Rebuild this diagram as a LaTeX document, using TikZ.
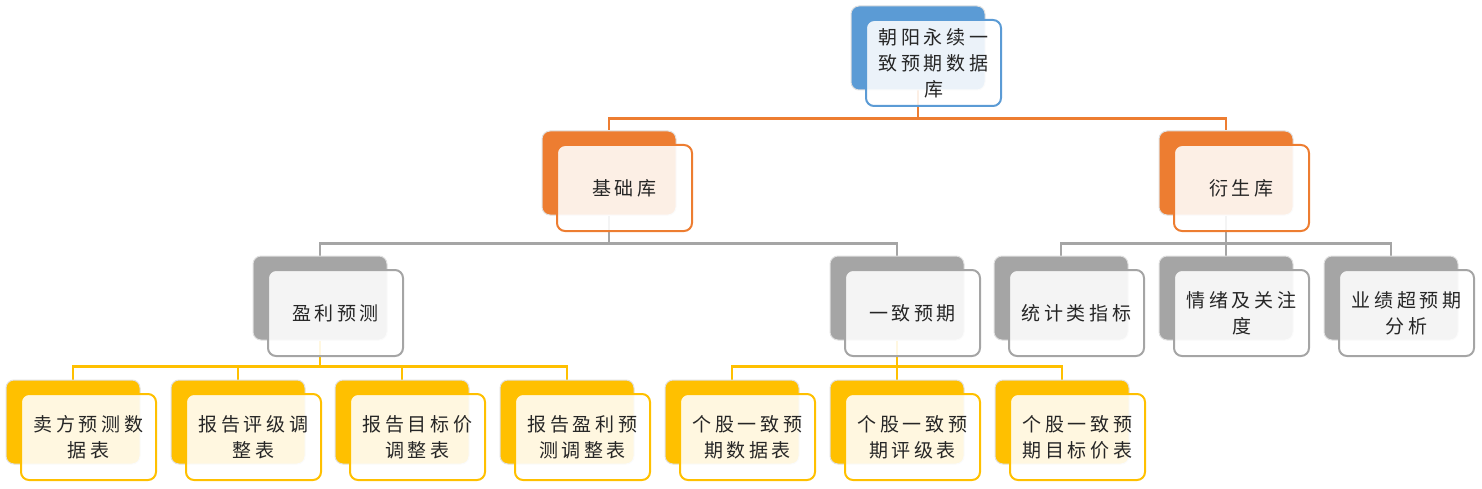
\documentclass[tikz,border=0pt]{standalone}
\usepackage{fontspec}
\newfontfamily\cjk[LetterSpace=19]{Noto Sans CJK SC}
\usetikzlibrary{calc,backgrounds}
\definecolor{rootblue}{HTML}{5B9BD5}
\definecolor{baseorange}{HTML}{ED7D31}
\definecolor{midgray}{HTML}{A5A5A5}
\definecolor{leafyellow}{HTML}{FFC000}
\definecolor{inkgray}{HTML}{262626}
\tikzset{
  backbox/.style={rounded corners=8pt, minimum width=134pt, minimum height=84pt,
    inner sep=0pt, draw=black!12, line width=1pt},
  frontbox/.style={rounded corners=8pt, minimum width=135pt, minimum height=86pt,
    inner sep=0pt, fill=white, fill opacity=0.88, text opacity=1, line width=2pt,
    text=inkgray, align=center, font=\cjk\fontsize{19}{26}\selectfont},
  link/.style={line width=2.3pt}
}
% back box named #2, front box named #2-f
\def\orgbox[#1](#2)(#3,#4)#5{%
  \node[backbox, fill=#1] (#2) at (#3,#4) {};
  \node[frontbox, draw=#1] (#2-f) at (#3+15.5,#4+15) {#5};}

\begin{document}
\begin{tikzpicture}[x=1pt,y=-1pt]
	\useasboundingbox (0,0) rectangle (1482,489);
	
	%%%%% level 0 %%%%%
	\orgbox[rootblue](root)(918,48){朝阳永续一\\致预期数据\\库}
	
	%%%%% level 1 %%%%%
	\orgbox[baseorange](base)(609,173){基础库}
	\orgbox[baseorange](deriv)(1226,173){衍生库}
	
	%%%%% level 2 %%%%%
	\orgbox[midgray](earn)(320,298){盈利预测}
	\orgbox[midgray](cons)(897,298){一致预期}
	\orgbox[midgray](stat)(1061,298){统计类指标}
	\orgbox[midgray](mood)(1226,298){情绪及关注\\度}
	\orgbox[midgray](beat)(1391,298){业绩超预期\\分析}
	
	%%%%% level 3 %%%%%
	\orgbox[leafyellow](sell)(73,422){卖方预测数\\据表}
	\orgbox[leafyellow](rate)(238,422){报告评级调\\整表}
	\orgbox[leafyellow](tgt)(402,422){报告目标价\\调整表}
	\orgbox[leafyellow](fcst)(567,422){报告盈利预\\测调整表}
	\orgbox[leafyellow](cdata)(732,422){个股一致预\\期数据表}
	\orgbox[leafyellow](crate)(897,422){个股一致预\\期评级表}
	\orgbox[leafyellow](ctgt)(1062,422){个股一致预\\期目标价表}
	
	%%%%% connectors %%%%%
	\begin{scope}[on background layer]
		\draw[link, color=baseorange] (root.south) -- ++(0,28) -| (base.north);
		\draw[link, color=baseorange] (root.south) -- ++(0,28) -| (deriv.north);
		
		\draw[link, color=midgray] (base.south) -- ++(0,28) -| (earn.north);
		\draw[link, color=midgray] (base.south) -- ++(0,28) -| (cons.north);
		\draw[link, color=midgray] (deriv.south) -- ++(0,28) -| (stat.north);
		\draw[link, color=midgray] (deriv.south) -- ++(0,28) -| (mood.north);
		\draw[link, color=midgray] (deriv.south) -- ++(0,28) -| (beat.north);
		
		\draw[link, color=leafyellow] (earn.south) -- ++(0,26) -| (sell.north);
		\draw[link, color=leafyellow] (earn.south) -- ++(0,26) -| (rate.north);
		\draw[link, color=leafyellow] (earn.south) -- ++(0,26) -| (tgt.north);
		\draw[link, color=leafyellow] (earn.south) -- ++(0,26) -| (fcst.north);
		\draw[link, color=leafyellow] (cons.south) -- ++(0,26) -| (cdata.north);
		\draw[link, color=leafyellow] (cons.south) -- ++(0,26) -| (crate.north);
		\draw[link, color=leafyellow] (cons.south) -- ++(0,26) -| (ctgt.north);
	\end{scope}
\end{tikzpicture}
\end{document}
